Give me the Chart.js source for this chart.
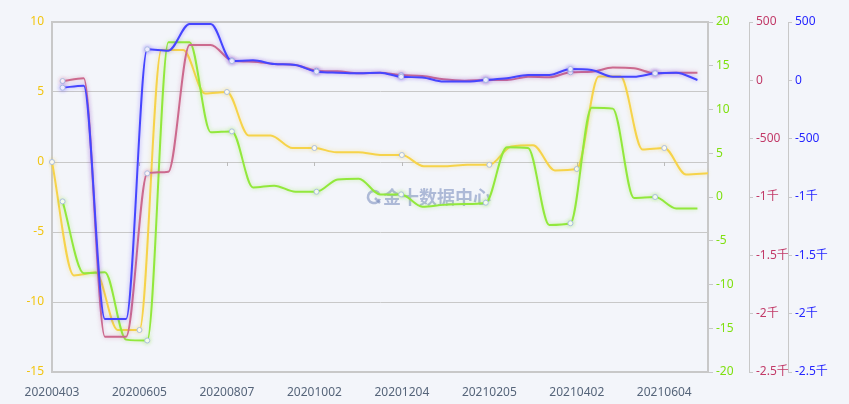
<!DOCTYPE html>
<html>
<head>
<meta charset="utf-8">
<script src="https://cdn.jsdelivr.net/npm/chart.js@4.4.1/dist/chart.umd.min.js"></script>
<style>
  html, body { margin: 0; padding: 0; background: #f3f5fa; }
  #wrap { width: 849px; height: 404px; position: relative; }
</style>
</head>
<body>
<div id="wrap"><canvas id="myChart"></canvas></div>
<script>
// dates on the category axis (only every 4th one is labelled)
const dates = [
  "20200403", "20200417", "20200508", "20200522", "20200605", "20200619",
  "20200702", "20200717", "20200807", "20200821", "20200904", "20200918",
  "20201002", "20201016", "20201106", "20201120", "20201204", "20201218",
  "20210108", "20210122", "20210205", "20210219", "20210305", "20210319",
  "20210402", "20210416", "20210507", "20210521", "20210604", "20210618",
  "20210702"
];

// series values
const yellowVals = [0, -8.1, -7.9, -12, -12, 8.0, 8.0, 4.9, 5.0, 1.9, 1.9, 1.0, 1.0, 0.7, 0.7, 0.5,
  0.5, -0.3, -0.3, -0.2, -0.2, 1.1, 1.2, -0.6, -0.5, 6.1, 6.1, 0.9, 1.0, -0.9, -0.8];
const greenVals = [-0.5, -8.7, -8.6, -16.3, -16.4, 17.7, 17.7, 7.4, 7.5, 1.1, 1.3, 0.6, 0.6, 2.0, 2.1, 0.3,
  0.3, -1.1, -0.9, -0.8, -0.65, 5.7, 5.6, -3.2, -3.0, 10.2, 10.1, -0.1, 0.0, -1.3, -1.3];
const redVals = [-6, 17, -2197, -2197, -797, -783, 303, 303, 170, 160, 140, 131, 83, 77, 60, 66,
  45, 37, 9, -3, 3, 3, 31, 26, 69, 74, 109, 103, 60, 66, 66];
const blueVals = [-63, -46, -2046, -2046, 266, 254, 483, 483, 165, 172, 140, 131, 74, 66, 60, 66,
  30, 25, -11, -11, 3, 17, 46, 46, 97, 89, 31, 31, 60, 66, 3];

const font = { family: '"Noto Sans", "Noto Sans CJK SC", sans-serif', size: 12 };
const axisGray = "#c8c8c8";

function thousand(v) {
  if (Math.abs(v) >= 1000) return v / 1000 + "千";
  return v;
}

function marker(c) {
  return c.dataIndex % 4 === 0 ? 2.5 : 0;
}

// soft glow under the lines
const glow = {
  id: "glow",
  beforeDatasetDraw(chart, args) {
    const ds = chart.data.datasets[args.index];
    chart.ctx.save();
    chart.ctx.shadowColor = ds.glowColor;
    chart.ctx.shadowBlur = 4;
  },
  afterDatasetDraw(chart) {
    chart.ctx.restore();
  }
};

// watermark + small ticks hanging on the zero line
const extras = {
  id: "extras",
  beforeDatasetsDraw(chart) {
    const c = chart.ctx;
    const xs = chart.scales.x;
    const y0 = chart.scales.y.getPixelForValue(0);
    c.save();
    c.strokeStyle = "#bbbbbb";
    c.lineWidth = 1;
    for (let i = 0; i < dates.length; i += 4) {
      const x = Math.round(xs.getPixelForValue(i)) + 0.5;
      c.beginPath();
      c.moveTo(x, y0);
      c.lineTo(x, y0 + 4);
      c.stroke();
    }
    c.fillStyle = "rgba(115,135,185,0.55)";
    c.strokeStyle = "rgba(115,135,185,0.55)";
    c.lineWidth = 2.5;
    c.beginPath();
    c.arc(374, 197, 6, 0.3, Math.PI * 1.85);
    c.stroke();
    c.beginPath();
    c.moveTo(375, 198);
    c.lineTo(380, 203);
    c.stroke();
    c.font = 'bold 18px "Noto Sans CJK SC", sans-serif';
    c.textBaseline = "middle";
    c.fillText("金十数据中心", 383, 197);
    c.restore();
  }
};

function lineSet(label, data, color, glowColor, xAxis, yAxis, order) {
  return {
    label: label,
    data: data,
    xAxisID: xAxis,
    yAxisID: yAxis,
    borderColor: color,
    borderWidth: 2,
    glowColor: glowColor,
    cubicInterpolationMode: "monotone",
    pointRadius: marker,
    pointHoverRadius: marker,
    pointBackgroundColor: "#ffffff",
    pointBorderColor: "#a9bde0",
    pointBorderWidth: 1,
    fill: false,
    order: order
  };
}

new Chart(document.getElementById("myChart"), {
  type: "line",
  data: {
    labels: dates,
    datasets: [
      lineSet("blue", blueVals, "#4646ff", "rgba(90,60,255,0.45)", "x2", "yB", 0),
      lineSet("red", redVals, "#cc6a8e", "rgba(200,90,140,0.4)", "x2", "yR", 1),
      lineSet("green", greenVals, "#92e83c", "rgba(140,230,60,0.45)", "x2", "yG", 2),
      lineSet("yellow", yellowVals, "#f6d34a", "rgba(245,210,70,0.45)", "x", "y", 3)
    ]
  },
  options: {
    responsive: true,
    maintainAspectRatio: false,
    animation: false,
    devicePixelRatio: 1,
    layout: { padding: { top: 22, left: 0, right: 0, bottom: 0 } },
    plugins: { legend: { display: false }, tooltip: { enabled: false } },
    scales: {
      x: {
        type: "category",
        offset: false,
        grid: { display: false },
        border: { display: true, color: axisGray, width: 2 },
        ticks: {
          autoSkip: false,
          maxRotation: 0,
          padding: 5,
          color: "#56657a",
          font: font,
          callback: (v, i) => (i % 4 === 0 ? dates[i] : "")
        },
        afterFit: (s) => { s.height = 32; }
      },
      x2: {
        type: "category",
        offset: true,
        display: false
      },
      y: {
        position: "left",
        min: -15,
        max: 10,
        ticks: { stepSize: 5, color: "#f2c511", font: font, padding: 8 },
        grid: {
          color: axisGray,
          lineWidth: (c) => (c.tick && c.tick.value === 10 ? 2 : 1),
          drawTicks: false
        },
        border: { display: true, color: axisGray, width: 2 },
        afterFit: (s) => { s.width = 52; }
      },
      yG: {
        position: "right",
        weight: 0,
        min: -20,
        max: 20,
        ticks: { stepSize: 5, color: "#7fe010", font: font, padding: 3 },
        grid: { drawOnChartArea: false, color: axisGray, tickLength: 5 },
        border: { display: true, color: axisGray, width: 2 },
        afterFit: (s) => { s.width = 41; }
      },
      yR: {
        position: "right",
        weight: 1,
        min: -2500,
        max: 500,
        ticks: { stepSize: 500, color: "#c23a68", font: font, padding: 3, callback: thousand },
        grid: { drawOnChartArea: false, color: axisGray, tickLength: 4 },
        border: { display: true, color: axisGray, width: 1 },
        afterFit: (s) => { s.width = 39; }
      },
      yB: {
        position: "right",
        weight: 2,
        min: -2500,
        max: 500,
        ticks: { stepSize: 500, color: "#2626ff", font: font, padding: 3, callback: thousand },
        grid: { drawOnChartArea: false, color: axisGray, tickLength: 4 },
        border: { display: true, color: axisGray, width: 1 },
        afterFit: (s) => { s.width = 61; }
      }
    }
  },
  plugins: [glow, extras]
});
</script>
</body>
</html>
